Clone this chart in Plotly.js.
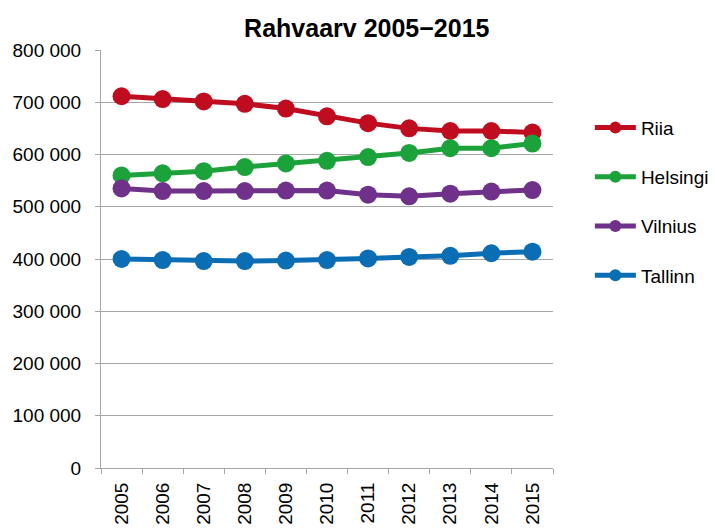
<!DOCTYPE html>
<html>
<head>
<meta charset="utf-8">
<script src="https://cdn.plot.ly/plotly-3.0.1.min.js"></script>
<style>html,body{margin:0;padding:0;background:#fff;}#chart{width:715px;height:528px;}</style>
</head>
<body>
<div id="chart"></div>
<script>
const years = ["2005","2006","2007","2008","2009","2010","2011","2012","2013","2014","2015"];
const riia = [711500, 706000, 701500, 697000, 688000, 673000, 660000, 650000, 645000, 645000, 642000];
const helsingi = [560000, 564000, 568000, 576000, 583000, 588000, 595000, 603000, 612000, 612000, 621000];
const vilnius = [535000, 530000, 530000, 530000, 531000, 531000, 523000, 520000, 525000, 529000, 532000];
const tallinn = [400000, 398000, 396000, 396000, 397000, 398000, 401000, 404000, 406000, 411000, 414000];
const seriesNames = ["Riia", "Helsingi", "Vilnius", "Tallinn"];
const seriesData = [riia, helsingi, vilnius, tallinn];
const colors = ["#BF0D1F", "#1CA23A", "#6F318A", "#0B6DB4"];

const traces = seriesData.map((vals, i) => ({
  type: "scatter",
  mode: "lines+markers",
  x: years,
  y: vals,
  name: seriesNames[i],
  legendgroup: seriesNames[i],
  line: {color: colors[i], width: 5},
  marker: {color: colors[i], size: 18},
  hoverinfo: "x+y+name"
}));

const FONT = "Liberation Sans, Arial, sans-serif";

const layout = {
  width: 715,
  height: 528,
  margin: {l: 101, r: 162, t: 50, b: 60, autoexpand: false},
  paper_bgcolor: "#ffffff",
  plot_bgcolor: "#ffffff",
  separators: ". ",
  font: {family: FONT, size: 19, color: "#000000"},
  title: {
    text: "<b>Rahvaarv 2005\u22122015</b>",
    font: {family: FONT, size: 25, color: "#000000"},
    xref: "container", x: 0.513, xanchor: "center",
    yref: "container", y: 0.947, yanchor: "middle"
  },
  xaxis: {
    type: "category",
    tickangle: -90,
    showgrid: false,
    showline: true,
    linecolor: "#a6a6a6",
    linewidth: 1,
    ticks: "outside",
    tickson: "boundaries",
    ticklen: 5,
    tickcolor: "#a6a6a6",
    ticklabelstandoff: 6,
    tickfont: {family: FONT, size: 19, color: "#000000"},
    range: [-0.5, 10.5],
    zeroline: false
  },
  yaxis: {
    range: [0, 800000],
    tickvals: [0, 100000, 200000, 300000, 400000, 500000, 600000, 700000, 800000],
    tickformat: ",d",
    showgrid: true,
    gridcolor: "#a6a6a6",
    gridwidth: 1,
    showline: true,
    linecolor: "#a6a6a6",
    linewidth: 1,
    ticks: "outside",
    ticklen: 5,
    tickcolor: "#a6a6a6",
    ticklabelstandoff: 10,
    tickfont: {family: FONT, size: 19, color: "#000000"},
    zeroline: false
  },
  legend: {
    xref: "container", yref: "container",
    x: 0.825, xanchor: "left",
    y: 0.794, yanchor: "top",
    font: {family: FONT, size: 19, color: "#000000"},
    tracegroupgap: 21.5,
    itemwidth: 41,
    itemsizing: "constant",
    bgcolor: "rgba(0,0,0,0)"
  },
  showlegend: true
};

Plotly.newPlot("chart", traces, layout, {displayModeBar: false, staticPlot: true});
</script>
</body>
</html>
